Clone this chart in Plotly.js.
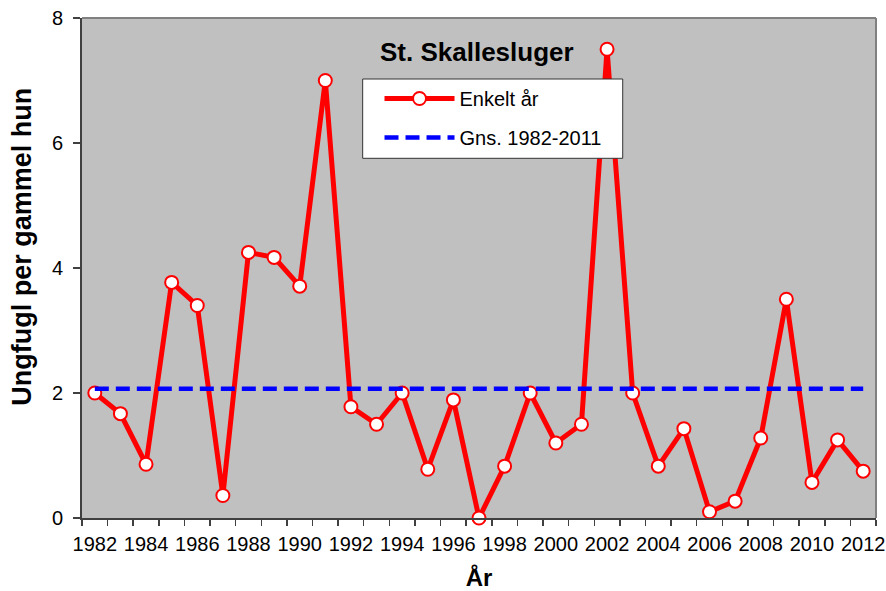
<!DOCTYPE html>
<html>
<head>
<meta charset="utf-8">
<script src="https://cdn.plot.ly/plotly-3.0.1.min.js"></script>
<style>html,body{margin:0;padding:0;background:#fff;}#chart{width:886px;height:591px;}</style>
</head>
<body>
<div id="chart"></div>
<script>
const years = [1982,1983,1984,1985,1986,1987,1988,1989,1990,1991,1992,1993,1994,1995,1996,1997,1998,1999,2000,2001,2002,2003,2004,2005,2006,2007,2008,2009,2010,2011,2012];
const enkeltAar = [2.0,1.67,0.86,3.77,3.40,0.36,4.25,4.17,3.71,7.0,1.78,1.50,2.0,0.78,1.89,0.0,0.83,2.0,1.20,1.50,7.5,2.0,0.83,1.43,0.10,0.27,1.28,3.50,0.57,1.25,0.75];
const gnsYears = [1982, 2012];
const gnsValues = [2.07, 2.07];
const xTickVals = [1982,1984,1986,1988,1990,1992,1994,1996,1998,2000,2002,2004,2006,2008,2010,2012];
const yTickVals = [0,2,4,6,8];

const FONT = 'Liberation Sans, Arial, Helvetica, sans-serif';

const traces = [
  {
    x: years, y: enkeltAar, type: 'scatter', mode: 'lines+markers',
    name: 'Enkelt år', legendgroup: 'a',
    line: {color: '#FF0000', width: 5},
    marker: {symbol: 'circle', size: 13, color: '#FFFFFF', line: {color: '#FF0000', width: 2}},
    cliponaxis: false
  },
  {
    x: gnsYears, y: gnsValues, type: 'scatter', mode: 'lines',
    name: 'Gns. 1982-2011', legendgroup: 'b',
    line: {color: '#0000FF', width: 4.5, dash: '14px,7px'}
  }
];

const layout = {
  width: 886, height: 591,
  margin: {l: 82, r: 10, t: 18, b: 73},
  paper_bgcolor: '#FFFFFF',
  plot_bgcolor: '#C0C0C0',
  font: {family: FONT, color: '#000000', size: 20},
  showlegend: true,
  legend: {
    x: 0.3747, y: 0.878, xanchor: 'left', yanchor: 'top',
    bgcolor: 'rgba(0,0,0,0)', borderwidth: 0,
    font: {family: FONT, size: 20, color: '#000000'},
    traceorder: 'grouped', tracegroupgap: 10, itemwidth: 70
  },
  xaxis: {
    range: [1981.5, 2012.5],
    tickmode: 'array', tickvals: xTickVals, ticktext: xTickVals.map(String),
    ticks: '', showgrid: false, zeroline: false,
    showline: true, linecolor: '#404040', linewidth: 2,
    tickfont: {family: FONT, size: 20, color: '#000000'},
    ticklabelstandoff: 7,
    ticklabeloverflow: 'allow',
    minor: {tickmode: 'linear', tick0: 1981.5, dtick: 1, ticks: 'outside', ticklen: 6, tickwidth: 1.5, tickcolor: '#404040', showgrid: false},
    title: {text: 'År', font: {family: FONT, size: 24, color: '#000000', weight: 'bold'}, standoff: 20},
    fixedrange: true
  },
  yaxis: {
    range: [0, 8],
    tickmode: 'array', tickvals: yTickVals, ticktext: yTickVals.map(String),
    ticks: 'outside', ticklen: 7, tickwidth: 1.5, tickcolor: '#404040',
    ticklabelstandoff: 6,
    showgrid: false, zeroline: false,
    showline: true, linecolor: '#404040', linewidth: 2,
    tickfont: {family: FONT, size: 20, color: '#000000'},
    fixedrange: true
  },
  shapes: [
    {type: 'line', xref: 'paper', yref: 'paper', x0: 0, x1: 1, y0: 1, y1: 1, line: {color: '#808080', width: 2}},
    {type: 'line', xref: 'paper', yref: 'paper', x0: 1, x1: 1, y0: 0, y1: 1, line: {color: '#808080', width: 2}},
    {type: 'rect', layer: 'above', xref: 'paper', yref: 'paper', x0: 0.3535, x1: 0.681, y0: 0.7194, y1: 0.878, fillcolor: '#FFFFFF', line: {color: '#333333', width: 1}}
  ],
  annotations: [
    {text: '<b>St. Skallesluger</b>', xref: 'paper', yref: 'paper', x: 0.498, y: 0.9326, xanchor: 'center', yanchor: 'middle', showarrow: false, font: {family: FONT, size: 26, color: '#000000'}},
    {text: '<b>Ungfugl per gammel hun</b>', xref: 'paper', yref: 'paper', x: -0.0756, y: 0.5426, xanchor: 'center', yanchor: 'middle', textangle: -90, showarrow: false, font: {family: FONT, size: 27, color: '#000000'}}
  ]
};

Plotly.newPlot('chart', traces, layout, {displayModeBar: false, staticPlot: true});
</script>
</body>
</html>
